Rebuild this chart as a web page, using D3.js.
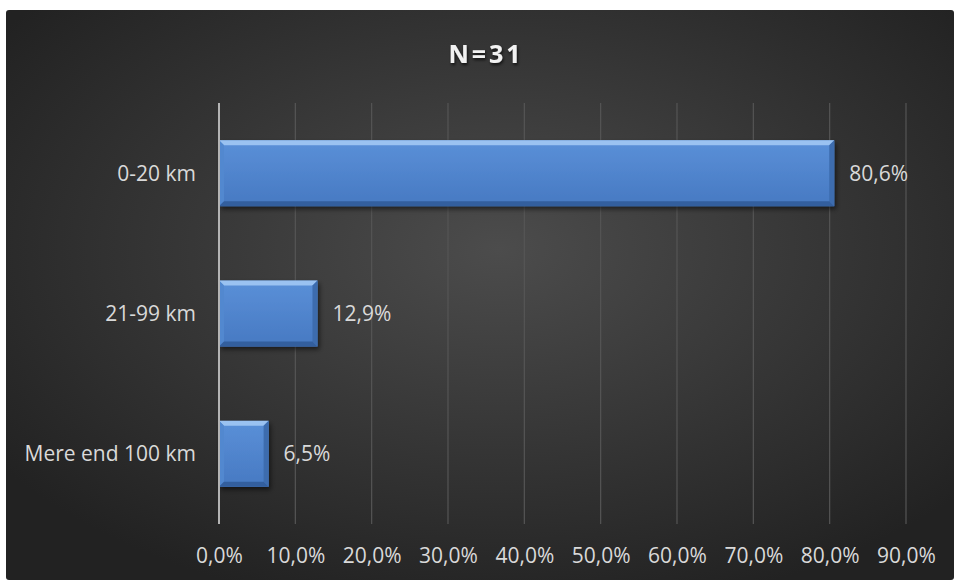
<!DOCTYPE html>
<html>
<head>
<meta charset="utf-8">
<script src="https://cdn.jsdelivr.net/npm/d3@7"></script>
<style>
  html, body { margin: 0; padding: 0; background: #fff; }
  svg text { font-family: "Open Sans", "Noto Sans", sans-serif; }
</style>
</head>
<body>
<div id="chart"></div>
<script>
// data
const categories = ["0-20 km", "21-99 km", "Mere end 100 km"];
const values = [80.6, 12.9, 6.5];
const tickValues = [0, 10, 20, 30, 40, 50, 60, 70, 80, 90];
const title = "N=31";

const W = 954, H = 580;
const fmt = v => v.toFixed(1).replace(".", ",") + "%";

const svg = d3.select("#chart").append("svg")
  .attr("width", W).attr("height", H);

const defs = svg.append("defs");

// background gradient
const bg = defs.append("radialGradient").attr("id", "bg")
  .attr("cx", "52%").attr("cy", "42%").attr("r", "65%");
bg.append("stop").attr("offset", "0%").attr("stop-color", "#4c4c4c");
bg.append("stop").attr("offset", "100%").attr("stop-color", "#222222");

// bar gradient
const bg2 = defs.append("linearGradient").attr("id", "barfill")
  .attr("x1", 0).attr("y1", 0).attr("x2", 0).attr("y2", 1);
bg2.append("stop").attr("offset", "0%").attr("stop-color", "#5a90d8");
bg2.append("stop").attr("offset", "100%").attr("stop-color", "#4779c2");

const sh = defs.append("filter").attr("id", "shadow")
  .attr("x", "-10%").attr("y", "-20%").attr("width", "130%").attr("height", "160%");
sh.append("feDropShadow").attr("dx", 2).attr("dy", 3).attr("stdDeviation", 2.5)
  .attr("flood-color", "#000").attr("flood-opacity", 0.55);

const tsh = defs.append("filter").attr("id", "tshadow");
tsh.append("feDropShadow").attr("dx", 1).attr("dy", 2).attr("stdDeviation", 1.5)
  .attr("flood-color", "#000").attr("flood-opacity", 0.7);

svg.append("rect")
  .attr("x", 6).attr("y", 10).attr("width", W - 6).attr("height", H - 10)
  .attr("rx", 3).attr("fill", "url(#bg)");

// scales
const x = d3.scaleLinear().domain([0, 90]).range([219, 906]);
const y = d3.scaleBand().domain(categories).range([103, 524])
  .paddingInner(0.53).paddingOuter(0.265);

// gridlines
svg.append("g").selectAll("line").data(tickValues.slice(1)).join("line")
  .attr("x1", d => x(d)).attr("x2", d => x(d))
  .attr("y1", 103).attr("y2", 524)
  .attr("stroke", "#555555").attr("stroke-width", 1.2);

// x axis labels
const xAxis = d3.axisBottom(x).tickValues(tickValues).tickFormat(fmt).tickSize(0).tickPadding(0);
const gx = svg.append("g").attr("transform", "translate(0,530)").call(xAxis);
gx.select(".domain").remove();
gx.selectAll("text")
  .attr("fill", "#d9d9d9")
  .attr("font-size", "21px")
  .attr("dy", "0")
  .attr("y", 33);

// y axis labels
const yAxis = d3.axisLeft(y).tickSize(0).tickPadding(0);
const gy = svg.append("g").attr("transform", "translate(196,0)").call(yAxis);
gy.select(".domain").remove();
gy.selectAll("text")
  .attr("fill", "#d9d9d9")
  .attr("font-size", "21px")
  .attr("dy", "0.36em");

// bars
const bev = 5;
const bars = svg.append("g").selectAll("g").data(values).join("g")
  .attr("transform", (d, i) => `translate(${x(0)},${y(categories[i])})`);
const bh = y.bandwidth();

bars.append("rect")
  .attr("width", d => x(d) - x(0)).attr("height", bh)
  .attr("fill", "url(#barfill)")
  .attr("filter", "url(#shadow)");

// bevel: top
bars.append("path")
  .attr("d", d => { const w = x(d) - x(0); return `M0,0 L${w},0 L${w - bev},${bev} L${bev},${bev} Z`; })
  .attr("fill", "#a6cbf6").attr("opacity", 0.85);
// bevel: left
bars.append("path")
  .attr("d", `M0,0 L${bev},${bev} L${bev},${bh - bev} L0,${bh} Z`)
  .attr("fill", "#5288cf");
// bevel: right
bars.append("path")
  .attr("d", d => { const w = x(d) - x(0); return `M${w},0 L${w},${bh} L${w - bev},${bh - bev} L${w - bev},${bev} Z`; })
  .attr("fill", "#3d6cae");
// bevel: bottom
bars.append("path")
  .attr("d", d => { const w = x(d) - x(0); return `M0,${bh} L${bev},${bh - bev} L${w - bev},${bh - bev} L${w},${bh} Z`; })
  .attr("fill", "#335f9e");

// value labels
svg.append("g").selectAll("text").data(values).join("text")
  .attr("x", d => x(d) + 15)
  .attr("y", (d, i) => y(categories[i]) + bh / 2)
  .attr("dy", "0.36em")
  .attr("fill", "#d9d9d9")
  .attr("font-size", "21px")
  .text(fmt);

// y axis line
svg.append("line")
  .attr("x1", x(0)).attr("x2", x(0)).attr("y1", 103).attr("y2", 524)
  .attr("stroke", "#b4b4b4").attr("stroke-width", 2);

// title
svg.append("text")
  .attr("x", 486).attr("y", 63)
  .attr("text-anchor", "middle")
  .attr("fill", "#f2f2f2")
  .attr("font-size", "25px").attr("font-weight", "bold")
  .attr("letter-spacing", "3px")
  .attr("filter", "url(#tshadow)")
  .text(title);
</script>
</body>
</html>
